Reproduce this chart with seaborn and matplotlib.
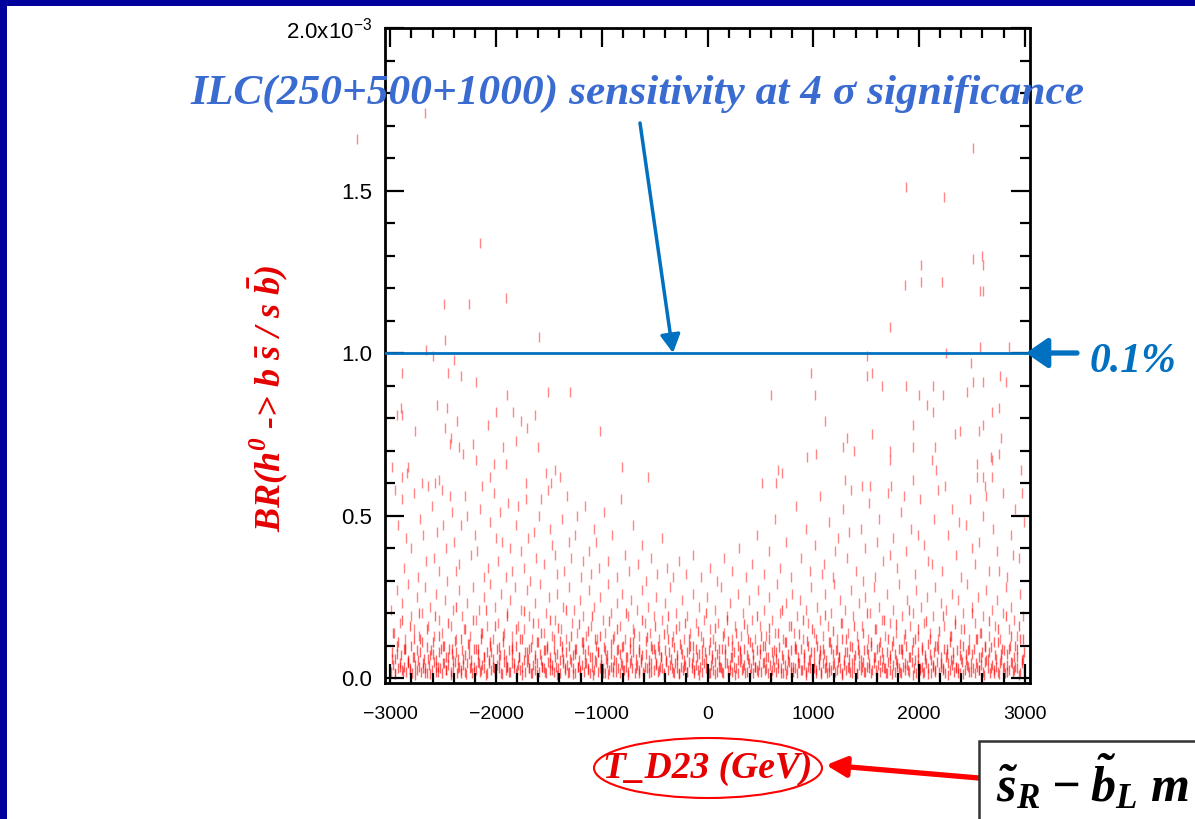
import matplotlib
matplotlib.use("Agg")
import matplotlib.pyplot as plt
import pandas as pd
import seaborn as sns
from matplotlib.patches import Rectangle, Ellipse
from matplotlib.ticker import FixedLocator, MultipleLocator

# ---------------- data (x: T_D23 in GeV, y: BR in units of 1e-3) ----------------
upper_points = [
    (-3316, 1.66), (-2673, 1.74), (-2152, 1.34), (-1909, 1.17), (-2493, 1.15), (-2256, 1.15),
    (-2483, 1.04), (-1597, 1.05), (-2663, 1.01), (-2600, 0.99), (-2398, 0.98), (-2890, 0.94),
    (-2455, 0.94), (-2332, 0.93), (-2190, 0.91), (-1900, 0.87), (-1512, 0.88), (-1300, 0.88),
    (-2560, 0.84), (-2465, 0.83), (-2903, 0.83), (-2938, 0.81), (-2890, 0.81), (-2000, 0.82),
    (-1840, 0.82), (-1632, 0.81), (-1765, 0.79), (-2370, 0.79), (-2078, 0.78), (-2480, 0.77),
    (-1708, 0.77), (-2767, 0.76), (-1017, 0.76), (-2427, 0.74), (-1812, 0.73), (-2436, 0.72),
    (-2220, 0.72), (-2350, 0.71), (-2313, 0.69), (-1935, 0.71), (-1604, 0.71), (-2190, 0.67),
    (-2020, 0.66), (-1905, 0.66), (-2985, 0.65), (-2833, 0.65), (-809, 0.65), (-1527, 0.63),
    (-1443, 0.64), (-1395, 0.62), (-2890, 0.62), (-2843, 0.63), (-2057, 0.62), (-564, 0.62),
    (-2701, 0.60), (-2578, 0.60), (-2540, 0.61), (-1717, 0.60), (-1480, 0.60),
    (2512, 1.63), (1877, 1.51), (2237, 1.48), (2512, 1.29), (2597, 1.30), (2606, 1.27),
    (2020, 1.27), (2020, 1.22), (1868, 1.21), (2218, 1.22), (2578, 1.19), (2606, 1.19),
    (1727, 1.08), (2578, 1.02), (2852, 1.02), (2258, 1.00), (1509, 0.99), (2494, 0.97),
    (980, 0.94), (1556, 0.94), (1509, 0.93), (1650, 0.90), (1877, 0.90), (2133, 0.90),
    (2512, 0.91), (2606, 0.91), (2767, 0.93), (2824, 0.91), (600, 0.87), (1018, 0.87),
    (2000, 0.87), (2228, 0.87), (2455, 0.88), (2077, 0.84), (2133, 0.82), (2691, 0.82),
    (2757, 0.83), (1112, 0.79), (1946, 0.78), (2606, 0.78), (1320, 0.74), (1556, 0.75),
    (2390, 0.76), (2342, 0.75), (2568, 0.76), (2776, 0.74), (1282, 0.71), (1390, 0.70),
    (1727, 0.70), (1946, 0.71), (2152, 0.71), (941, 0.68), (1027, 0.69), (1727, 0.67),
    (2124, 0.67), (2550, 0.66), (2682, 0.68), (2691, 0.67), (2757, 0.69), (669, 0.64),
    (707, 0.63), (2162, 0.64), (2965, 0.64), (520, 0.60), (650, 0.60), (1300, 0.61),
    (1946, 0.61), (2550, 0.62), (2606, 0.62), (2626, 0.59), (2691, 0.62), (1736, 0.59),
    (1462, 0.59), (1537, 0.59),
]

mid_points = [
    (-2960, 0.58), (-2890, 0.55), (-2850, 0.43), (-2780, 0.57), (-2720, 0.49), (-2660, 0.36),
    (-2610, 0.53), (-2560, 0.45), (-2510, 0.58), (-2470, 0.40), (-2420, 0.51), (-2380, 0.33),
    (-2330, 0.47), (-2290, 0.56), (-2240, 0.38), (-2200, 0.44), (-2150, 0.52), (-2110, 0.31),
    (-2060, 0.48), (-2020, 0.57), (-1980, 0.36), (-1940, 0.42), (-1890, 0.54), (-1850, 0.33),
    (-1810, 0.47), (-1760, 0.39), (-1720, 0.55), (-1680, 0.30), (-1640, 0.45), (-1590, 0.50),
    (-1550, 0.35), (-1510, 0.58), (-1470, 0.41), (-1420, 0.32), (-1380, 0.49), (-1330, 0.56),
    (-1290, 0.37), (-1250, 0.44), (-1200, 0.31), (-1160, 0.53), (-1120, 0.39), (-1070, 0.46),
    (-1030, 0.34), (-2930, 0.47), (-2870, 0.34), (-2800, 0.40), (-2740, 0.31), (-2690, 0.44),
    (-2640, 0.59), (-2590, 0.37), (-2540, 0.33), (-2500, 0.47), (-2440, 0.56), (-2400, 0.42),
    (-2350, 0.35), (-2270, 0.50), (-2180, 0.39), (-2130, 0.59), (-2080, 0.34), (-2000, 0.43),
    (-1960, 0.51), (-1910, 0.31), (-1870, 0.40), (-1790, 0.53), (-1740, 0.34), (-1700, 0.43),
    (-1620, 0.37), (-1570, 0.55), (-1490, 0.46), (-1440, 0.38), (-1360, 0.33), (-1310, 0.42),
    (-1230, 0.50), (-1180, 0.36), (-1100, 0.32), (-1050, 0.42),
    (-980, 0.51), (-940, 0.36), (-900, 0.44), (-860, 0.31), (-820, 0.55), (-780, 0.38),
    (-740, 0.33), (-700, 0.47), (-660, 0.35), (-620, 0.41), (-580, 0.30), (-530, 0.37),
    (-480, 0.32), (-430, 0.43), (-380, 0.34), (-330, 0.31), (-270, 0.36), (-200, 0.32),
    (-140, 0.38), (-60, 0.31), (20, 0.34), (90, 0.30), (160, 0.37), (230, 0.33),
    (300, 0.40), (360, 0.31), (420, 0.35), (470, 0.44), (530, 0.32), (580, 0.39),
    (640, 0.49), (690, 0.34), (740, 0.42), (790, 0.31), (840, 0.53), (880, 0.37),
    (930, 0.46), (970, 0.33),
    (1020, 0.41), (1060, 0.56), (1100, 0.35), (1150, 0.48), (1190, 0.31), (1230, 0.43),
    (1280, 0.52), (1320, 0.37), (1360, 0.58), (1400, 0.33), (1450, 0.46), (1490, 0.40),
    (1530, 0.54), (1580, 0.31), (1620, 0.49), (1660, 0.36), (1710, 0.57), (1750, 0.43),
    (1790, 0.34), (1830, 0.51), (1880, 0.39), (1920, 0.46), (1960, 0.32), (2010, 0.55),
    (2050, 0.41), (2090, 0.36), (2140, 0.49), (2180, 0.58), (2220, 0.33), (2270, 0.44),
    (2310, 0.52), (2350, 0.38), (2400, 0.31), (2440, 0.47), (2480, 0.55), (2530, 0.35),
    (2570, 0.42), (2610, 0.50), (2660, 0.33), (2700, 0.46), (2740, 0.39), (2790, 0.57),
    (2830, 0.31), (2870, 0.44), (2910, 0.52), (2950, 0.37), (2990, 0.48),
    (1080, 0.32), (1210, 0.39), (1340, 0.45), (1470, 0.30), (1600, 0.42), (1730, 0.38),
    (1860, 0.56), (1990, 0.44), (2120, 0.35), (2250, 0.59), (2380, 0.48), (2500, 0.40),
    (2630, 0.56), (2760, 0.33), (2890, 0.38), (2970, 0.57),
]

low_points = [
    (-2990, 0.21), (-2965, 0.14), (-2940, 0.27), (-2910, 0.17), (-2885, 0.23), (-2860, 0.12),
    (-2830, 0.29), (-2805, 0.19), (-2780, 0.15), (-2750, 0.25), (-2725, 0.13), (-2700, 0.20),
    (-2670, 0.28), (-2645, 0.16), (-2620, 0.22), (-2590, 0.13), (-2565, 0.26), (-2540, 0.18),
    (-2510, 0.14), (-2485, 0.24), (-2460, 0.30), (-2430, 0.16), (-2405, 0.21), (-2380, 0.12),
    (-2350, 0.27), (-2325, 0.19), (-2300, 0.15), (-2270, 0.23), (-2245, 0.13), (-2220, 0.28),
    (-2190, 0.18), (-2165, 0.21), (-2140, 0.14), (-2110, 0.25), (-2085, 0.16), (-2060, 0.29),
    (-2030, 0.12), (-2005, 0.22), (-1980, 0.17), (-1950, 0.26), (-1925, 0.14), (-1900, 0.20),
    (-1870, 0.24), (-1845, 0.13), (-1820, 0.28), (-1790, 0.16), (-1765, 0.21), (-1740, 0.15),
    (-1710, 0.27), (-1685, 0.19), (-1660, 0.12), (-1630, 0.23), (-1605, 0.17), (-1580, 0.29),
    (-1550, 0.14), (-1525, 0.20), (-1500, 0.25), (-1470, 0.13), (-1445, 0.18), (-1420, 0.26),
    (-1390, 0.15), (-1365, 0.22), (-1340, 0.12), (-1310, 0.28), (-1285, 0.17), (-1260, 0.21),
    (-1230, 0.14), (-1205, 0.24), (-1180, 0.19), (-1150, 0.13), (-1125, 0.27), (-1100, 0.16),
    (-1070, 0.22), (-1045, 0.12), (-1020, 0.25), (-990, 0.18), (-965, 0.14), (-940, 0.29),
    (-910, 0.20), (-885, 0.13), (-860, 0.23), (-830, 0.16), (-805, 0.26), (-780, 0.12),
    (-750, 0.19), (-725, 0.24), (-700, 0.15), (-670, 0.21), (-645, 0.13), (-620, 0.27),
    (-590, 0.17), (-565, 0.22), (-540, 0.14), (-510, 0.19), (-485, 0.25), (-460, 0.12),
    (-430, 0.18), (-405, 0.23), (-380, 0.15), (-350, 0.28), (-325, 0.13), (-300, 0.20),
    (-270, 0.16), (-245, 0.24), (-220, 0.12), (-190, 0.19), (-165, 0.14), (-140, 0.26),
    (-110, 0.17), (-85, 0.22), (-60, 0.13), (-30, 0.18), (-5, 0.25), (20, 0.15),
    (50, 0.12), (75, 0.21), (100, 0.17), (130, 0.28), (155, 0.14), (180, 0.19),
    (210, 0.23), (235, 0.12), (260, 0.16), (290, 0.26), (315, 0.13), (340, 0.20),
    (370, 0.15), (395, 0.24), (420, 0.18), (450, 0.12), (475, 0.27), (500, 0.16),
    (530, 0.21), (555, 0.13), (580, 0.25), (610, 0.18), (635, 0.14), (660, 0.29),
    (690, 0.20), (715, 0.12), (740, 0.23), (770, 0.16), (795, 0.26), (820, 0.14),
    (850, 0.19), (875, 0.24), (900, 0.12), (930, 0.21), (955, 0.17), (980, 0.28),
    (1010, 0.14), (1035, 0.22), (1060, 0.18), (1090, 0.13), (1115, 0.26), (1140, 0.16),
    (1170, 0.20), (1195, 0.29), (1220, 0.12), (1250, 0.24), (1275, 0.17), (1300, 0.21),
    (1330, 0.14), (1355, 0.27), (1380, 0.19), (1410, 0.13), (1435, 0.23), (1460, 0.16),
    (1490, 0.25), (1515, 0.12), (1540, 0.20), (1570, 0.28), (1595, 0.15), (1620, 0.22),
    (1650, 0.18), (1675, 0.13), (1700, 0.26), (1730, 0.17), (1755, 0.21), (1780, 0.14),
    (1810, 0.29), (1835, 0.19), (1860, 0.12), (1890, 0.24), (1915, 0.16), (1940, 0.20),
    (1970, 0.27), (1995, 0.13), (2020, 0.22), (2050, 0.17), (2075, 0.25), (2100, 0.14),
    (2130, 0.19), (2155, 0.28), (2180, 0.12), (2210, 0.23), (2235, 0.16), (2260, 0.21),
    (2290, 0.13), (2315, 0.26), (2340, 0.18), (2370, 0.24), (2395, 0.15), (2420, 0.20),
    (2450, 0.29), (2475, 0.12), (2500, 0.22), (2530, 0.17), (2555, 0.25), (2580, 0.14),
    (2610, 0.19), (2635, 0.27), (2660, 0.13), (2690, 0.21), (2715, 0.16), (2740, 0.24),
    (2770, 0.12), (2795, 0.20), (2820, 0.28), (2850, 0.15), (2875, 0.22), (2900, 0.18),
    (2930, 0.13), (2955, 0.26), (2985, 0.19),
]

low_points_b = [
    (-2975, .14), (-2937, .10), (-2893, .18), (-2858, .09), (-2815, .16), (-2777, .12), (-2733, .20), (-2698, .11), (-2655, .15), (-2617, .085),
    (-2574, .19), (-2536, .13), (-2495, .10), (-2452, .17), (-2416, .09), (-2374, .22), (-2333, .12), (-2296, .15), (-2253, .105), (-2214, .18),
    (-2172, .09), (-2135, .14), (-2093, .21), (-2054, .11), (-2013, .16), (-1975, .095), (-1932, .13), (-1894, .19), (-1853, .10), (-1815, .15),
    (-1773, .12), (-1734, .205), (-1692, .09), (-1655, .17), (-1613, .11), (-1574, .14), (-1533, .085), (-1494, .18), (-1452, .12), (-1415, .155),
    (-1373, .10), (-1334, .21), (-1292, .13), (-1255, .09), (-1213, .165), (-1174, .11), (-1133, .145), (-1095, .19), (-1052, .10), (-1014, .13),
    (-973, .085), (-935, .175), (-892, .12), (-855, .15), (-813, .095), (-774, .20), (-733, .11), (-695, .14), (-652, .09), (-615, .18),
    (-573, .125), (-534, .10), (-493, .16), (-455, .085), (-412, .135), (-374, .19), (-333, .11), (-295, .15), (-252, .09), (-214, .17),
    (-173, .12), (-134, .10), (-93, .145), (-55, .085), (-12, .20), (26, .11), (67, .155), (105, .09), (147, .13), (186, .18),
    (227, .10), (265, .14), (307, .085), (346, .165), (387, .12), (425, .095), (467, .19), (506, .13), (547, .10), (585, .155),
    (627, .085), (666, .14), (707, .21), (745, .11), (787, .16), (826, .09), (867, .135), (905, .18), (947, .10), (986, .15),
    (1027, .12), (1065, .085), (1107, .195), (1146, .11), (1187, .145), (1225, .09), (1267, .17), (1306, .12), (1347, .10), (1385, .16),
    (1427, .085), (1466, .14), (1507, .20), (1545, .11), (1587, .15), (1626, .095), (1667, .18), (1705, .12), (1747, .10), (1786, .165),
    (1827, .09), (1865, .135), (1907, .21), (1946, .11), (1987, .15), (2025, .085), (2067, .175), (2106, .12), (2147, .10), (2185, .145),
    (2227, .19), (2266, .09), (2307, .13), (2345, .165), (2387, .105), (2426, .15), (2467, .085), (2505, .20), (2547, .12), (2586, .14),
    (2627, .095), (2665, .175), (2707, .11), (2746, .15), (2787, .09), (2825, .19), (2867, .13), (2906, .10), (2947, .16), (2985, .12),
]

base_points_a = [
    (-2990, .02), (-2972, .04), (-2951, .015), (-2930, .03), (-2912, .045), (-2890, .025), (-2871, .035), (-2849, .02), (-2830, .05), (-2811, .03),
    (-2790, .015), (-2770, .04), (-2752, .025), (-2729, .035), (-2710, .02), (-2691, .045), (-2669, .03), (-2650, .015), (-2631, .04), (-2609, .025),
    (-2590, .05), (-2571, .02), (-2549, .035), (-2530, .03), (-2512, .015), (-2489, .045), (-2470, .025), (-2451, .04), (-2430, .02), (-2409, .03),
    (-2390, .05), (-2372, .015), (-2350, .035), (-2331, .025), (-2309, .04), (-2290, .02), (-2271, .045), (-2250, .03), (-2230, .015), (-2211, .035),
    (-2190, .025), (-2169, .05), (-2150, .02), (-2131, .04), (-2110, .03), (-2089, .015), (-2070, .045), (-2052, .025), (-2030, .035), (-2011, .02),
    (-1990, .04), (-1970, .03), (-1951, .015), (-1929, .05), (-1910, .025), (-1892, .035), (-1870, .02), (-1849, .045), (-1830, .03), (-1811, .015),
    (-1790, .04), (-1771, .025), (-1750, .035), (-1729, .02), (-1710, .05), (-1691, .03), (-1670, .015), (-1649, .04), (-1631, .025), (-1610, .045),
    (-1590, .02), (-1569, .035), (-1550, .03), (-1530, .015), (-1511, .05), (-1490, .025), (-1470, .04), (-1451, .02), (-1429, .035), (-1410, .03),
    (-1391, .015), (-1370, .045), (-1350, .025), (-1331, .04), (-1310, .02), (-1290, .05), (-1271, .03), (-1250, .015), (-1229, .035), (-1210, .025),
    (-1190, .04), (-1171, .02), (-1150, .045), (-1130, .03), (-1111, .015), (-1090, .035), (-1069, .025), (-1050, .05), (-1031, .02), (-1010, .04),
    (-990, .03), (-971, .015), (-950, .045), (-929, .025), (-910, .035), (-891, .02), (-870, .05), (-850, .03), (-831, .015), (-810, .04),
    (-790, .025), (-771, .035), (-750, .02), (-729, .045), (-710, .03), (-690, .015), (-671, .04), (-650, .025), (-630, .05), (-611, .02),
    (-590, .035), (-570, .03), (-551, .015), (-530, .045), (-509, .025), (-490, .04), (-471, .02), (-450, .035), (-430, .03), (-410, .015),
    (-391, .05), (-370, .025), (-350, .04), (-331, .02), (-310, .045), (-290, .03), (-271, .015), (-250, .035), (-229, .025), (-210, .04),
    (-190, .02), (-171, .05), (-150, .03), (-130, .015), (-111, .04), (-90, .025), (-70, .035), (-51, .02), (-30, .045), (-10, .03),
    (10, .015), (30, .04), (49, .025), (70, .05), (90, .02), (111, .035), (130, .03), (150, .015), (169, .045), (190, .025),
    (210, .04), (229, .02), (250, .035), (270, .03), (291, .015), (310, .05), (330, .025), (349, .04), (370, .02), (390, .045),
    (410, .03), (431, .015), (450, .035), (470, .025), (489, .04), (510, .02), (530, .05), (551, .03), (570, .015), (590, .04),
    (610, .025), (629, .035), (650, .02), (670, .045), (691, .03), (710, .015), (730, .04), (749, .025), (770, .05), (790, .02),
    (810, .035), (831, .03), (850, .015), (870, .045), (889, .025), (910, .04), (930, .02), (951, .035), (970, .03), (990, .015),
    (1010, .05), (1029, .025), (1050, .04), (1070, .02), (1091, .045), (1110, .03), (1130, .015), (1149, .035), (1170, .025), (1190, .04),
    (1210, .02), (1231, .05), (1250, .03), (1270, .015), (1289, .04), (1310, .025), (1330, .035), (1351, .02), (1370, .045), (1390, .03),
    (1410, .015), (1429, .04), (1450, .025), (1470, .05), (1491, .02), (1510, .035), (1530, .03), (1549, .015), (1570, .045), (1590, .025),
    (1610, .04), (1631, .02), (1650, .035), (1670, .03), (1689, .015), (1710, .05), (1730, .025), (1751, .04), (1770, .02), (1790, .045),
    (1810, .03), (1829, .015), (1850, .035), (1870, .025), (1891, .04), (1910, .02), (1930, .05), (1949, .03), (1970, .015), (1990, .04),
    (2010, .025), (2031, .035), (2050, .02), (2070, .045), (2089, .03), (2110, .015), (2130, .04), (2151, .025), (2170, .05), (2190, .02),
    (2210, .035), (2229, .03), (2250, .015), (2270, .045), (2291, .025), (2310, .04), (2330, .02), (2349, .035), (2370, .03), (2390, .015),
    (2410, .05), (2431, .025), (2450, .04), (2470, .02), (2489, .045), (2510, .03), (2530, .015), (2551, .035), (2570, .025), (2590, .04),
    (2610, .02), (2629, .05), (2650, .03), (2670, .015), (2691, .04), (2710, .025), (2730, .035), (2749, .02), (2770, .045), (2790, .03),
    (2810, .015), (2831, .04), (2850, .025), (2870, .05), (2889, .02), (2910, .035), (2930, .03), (2951, .015), (2970, .045), (2990, .025),
]

base_points_b = [
    (-2985, .08), (-2955, .06), (-2926, .11), (-2895, .07), (-2866, .09), (-2836, .055), (-2805, .10), (-2776, .065), (-2745, .085), (-2716, .12),
    (-2685, .06), (-2656, .095), (-2626, .07), (-2595, .11), (-2566, .055), (-2535, .08), (-2506, .10), (-2476, .065), (-2445, .09), (-2416, .075),
    (-2386, .115), (-2355, .06), (-2326, .085), (-2296, .07), (-2265, .105), (-2236, .055), (-2206, .09), (-2175, .075), (-2146, .12), (-2116, .065),
    (-2085, .08), (-2056, .10), (-2026, .06), (-1995, .09), (-1966, .07), (-1936, .11), (-1905, .055), (-1876, .085), (-1846, .075), (-1815, .10),
    (-1786, .065), (-1756, .12), (-1725, .08), (-1696, .06), (-1666, .095), (-1635, .07), (-1606, .11), (-1576, .055), (-1545, .085), (-1516, .10),
    (-1486, .065), (-1455, .09), (-1426, .075), (-1396, .115), (-1365, .06), (-1336, .08), (-1306, .10), (-1275, .07), (-1246, .09), (-1216, .055),
    (-1185, .11), (-1156, .075), (-1126, .085), (-1095, .065), (-1066, .12), (-1036, .08), (-1005, .06), (-976, .095), (-946, .07), (-915, .105),
    (-886, .055), (-856, .085), (-825, .075), (-796, .10), (-766, .065), (-735, .09), (-706, .11), (-676, .06), (-645, .08), (-616, .07),
    (-586, .115), (-555, .055), (-526, .09), (-496, .075), (-465, .10), (-436, .065), (-406, .085), (-375, .12), (-346, .06), (-316, .095),
    (-285, .07), (-256, .105), (-226, .055), (-195, .08), (-166, .10), (-136, .065), (-105, .09), (-76, .075), (-46, .11), (-15, .06),
    (15, .085), (44, .07), (74, .10), (105, .055), (134, .09), (164, .075), (195, .115), (224, .065), (254, .08), (285, .10),
    (314, .06), (344, .09), (375, .07), (404, .11), (434, .055), (465, .085), (494, .075), (524, .10), (555, .065), (584, .12),
    (614, .08), (645, .06), (674, .095), (704, .07), (735, .11), (764, .055), (794, .085), (825, .10), (854, .065), (884, .09),
    (915, .075), (944, .115), (974, .06), (1005, .08), (1034, .10), (1064, .07), (1095, .09), (1124, .055), (1154, .11), (1185, .075),
    (1214, .085), (1244, .065), (1275, .12), (1304, .08), (1334, .06), (1365, .095), (1394, .07), (1424, .105), (1455, .055), (1484, .085),
    (1514, .075), (1545, .10), (1574, .065), (1604, .09), (1635, .11), (1664, .06), (1694, .08), (1725, .07), (1754, .115), (1784, .055),
    (1815, .09), (1844, .075), (1874, .10), (1905, .065), (1934, .085), (1964, .12), (1995, .06), (2024, .095), (2054, .07), (2085, .105),
    (2114, .055), (2144, .08), (2175, .10), (2204, .065), (2234, .09), (2265, .075), (2294, .11), (2324, .06), (2355, .085), (2384, .07),
    (2414, .10), (2445, .055), (2474, .09), (2504, .075), (2535, .12), (2564, .065), (2594, .08), (2625, .10), (2654, .06), (2684, .095),
    (2715, .07), (2744, .11), (2774, .055), (2805, .085), (2834, .075), (2864, .10), (2895, .065), (2924, .09), (2955, .12), (2984, .06),
]

base_points_c = [
    (-2980, .06), (-2956, .012), (-2932, .075), (-2908, .035), (-2884, .02), (-2860, .09), (-2836, .045), (-2812, .025), (-2788, .065), (-2764, .01),
    (-2740, .055), (-2716, .08), (-2692, .03), (-2668, .015), (-2644, .06), (-2620, .012), (-2596, .075), (-2572, .035), (-2548, .02), (-2524, .09),
    (-2500, .045), (-2476, .025), (-2452, .065), (-2428, .01), (-2404, .055), (-2380, .08), (-2356, .03), (-2332, .015), (-2308, .06), (-2284, .012),
    (-2260, .075), (-2236, .035), (-2212, .02), (-2188, .09), (-2164, .045), (-2140, .025), (-2116, .065), (-2092, .01), (-2068, .055), (-2044, .08),
    (-2020, .03), (-1996, .015), (-1972, .06), (-1948, .012), (-1924, .075), (-1900, .035), (-1876, .02), (-1852, .09), (-1828, .045), (-1804, .025),
    (-1780, .065), (-1756, .01), (-1732, .055), (-1708, .08), (-1684, .03), (-1660, .015), (-1636, .06), (-1612, .012), (-1588, .075), (-1564, .035),
    (-1540, .02), (-1516, .09), (-1492, .045), (-1468, .025), (-1444, .065), (-1420, .01), (-1396, .055), (-1372, .08), (-1348, .03), (-1324, .015),
    (-1300, .06), (-1276, .012), (-1252, .075), (-1228, .035), (-1204, .02), (-1180, .09), (-1156, .045), (-1132, .025), (-1108, .065), (-1084, .01),
    (-1060, .055), (-1036, .08), (-1012, .03), (-988, .015), (-964, .06), (-940, .012), (-916, .075), (-892, .035), (-868, .02), (-844, .09),
    (-820, .045), (-796, .025), (-772, .065), (-748, .01), (-724, .055), (-700, .08), (-676, .03), (-652, .015), (-628, .06), (-604, .012),
    (-580, .075), (-556, .035), (-532, .02), (-508, .09), (-484, .045), (-460, .025), (-436, .065), (-412, .01), (-388, .055), (-364, .08),
    (-340, .03), (-316, .015), (-292, .06), (-268, .012), (-244, .075), (-220, .035), (-196, .02), (-172, .09), (-148, .045), (-124, .025),
    (-100, .065), (-76, .01), (-52, .055), (-28, .08), (-4, .03), (20, .015), (44, .06), (68, .012), (92, .075), (116, .035),
    (140, .02), (164, .09), (188, .045), (212, .025), (236, .065), (260, .01), (284, .055), (308, .08), (332, .03), (356, .015),
    (380, .06), (404, .012), (428, .075), (452, .035), (476, .02), (500, .09), (524, .045), (548, .025), (572, .065), (596, .01),
    (620, .055), (644, .08), (668, .03), (692, .015), (716, .06), (740, .012), (764, .075), (788, .035), (812, .02), (836, .09),
    (860, .045), (884, .025), (908, .065), (932, .01), (956, .055), (980, .08), (1004, .03), (1028, .015), (1052, .06), (1076, .012),
    (1100, .075), (1124, .035), (1148, .02), (1172, .09), (1196, .045), (1220, .025), (1244, .065), (1268, .01), (1292, .055), (1316, .08),
    (1340, .03), (1364, .015), (1388, .06), (1412, .012), (1436, .075), (1460, .035), (1484, .02), (1508, .09), (1532, .045), (1556, .025),
    (1580, .065), (1604, .01), (1628, .055), (1652, .08), (1676, .03), (1700, .015), (1724, .06), (1748, .012), (1772, .075), (1796, .035),
    (1820, .02), (1844, .09), (1868, .045), (1892, .025), (1916, .065), (1940, .01), (1964, .055), (1988, .08), (2012, .03), (2036, .015),
    (2060, .06), (2084, .012), (2108, .075), (2132, .035), (2156, .02), (2180, .09), (2204, .045), (2228, .025), (2252, .065), (2276, .01),
    (2300, .055), (2324, .08), (2348, .03), (2372, .015), (2396, .06), (2420, .012), (2444, .075), (2468, .035), (2492, .02), (2516, .09),
    (2540, .045), (2564, .025), (2588, .065), (2612, .01), (2636, .055), (2660, .08), (2684, .03), (2708, .015), (2732, .06), (2756, .012),
    (2780, .075), (2804, .035), (2828, .02), (2852, .09), (2876, .045), (2900, .025), (2924, .065), (2948, .01), (2972, .055), (2996, .08),
]

x_ticks = [-3000, -2000, -1000, 0, 1000, 2000, 3000]
x_tick_labels = ["\u22123000", "\u22122000", "\u22121000", "0", "1000", "2000", "3000"]
y_ticks = [0.0, 0.5, 1.0, 1.5, 2.0]
y_tick_labels = ["0.0", "0.5", "1.0", "1.5", r"$\mathregular{2.0x10^{-3}}$"]
sensitivity_level = 1.0   # 0.1 %, in units of 1e-3

title_text = "ILC(250+500+1000) sensitivity at 4 \u03c3 significance"
xlabel_text = "T_D23 (GeV)"
ylabel_text = r"BR(h$^{\mathregular{0}}$ -> b $\mathregular{\bar{s}}$ / s $\mathregular{\bar{b}}$)"
level_text = "0.1%"
box_text = r"$\mathregular{\tilde{s}_{R}-\tilde{b}_{L}}$ m"

# ---------------- figure ----------------
plt.rcParams["font.family"] = ["Liberation Sans", "DejaVu Sans"]
W, H = 1195, 819
fig = plt.figure(figsize=(W / 100, H / 100), dpi=100)
fig.patch.set_facecolor("white")
ax = fig.add_axes([385 / W, 136 / H, 645 / W, 655 / H])

sparse_df = pd.DataFrame(upper_points + mid_points + low_points, columns=["x", "y"])
dense_df = pd.DataFrame(low_points_b + base_points_a + base_points_b + base_points_c,
                        columns=["x", "y"])
sns.scatterplot(data=sparse_df, x="x", y="y", marker="|", s=45, color="#ff1010",
                alpha=0.5, linewidth=1.0, ax=ax, clip_on=False, legend=False)
sns.scatterplot(data=dense_df, x="x", y="y", marker="|", s=45, color="#ff0a0a",
                alpha=0.62, linewidth=1.0, ax=ax, clip_on=False, legend=False)

ax.axhline(sensitivity_level, color="#0070C0", lw=2, zorder=3)

ax.set_xlim(-3050, 3050)
ax.set_ylim(-0.015, 2.0)
ax.xaxis.set_major_locator(FixedLocator(x_ticks))
ax.set_xticklabels(x_tick_labels)
ax.xaxis.set_minor_locator(MultipleLocator(200))
ax.yaxis.set_major_locator(FixedLocator(y_ticks))
ax.set_yticklabels(y_tick_labels)
ax.yaxis.set_minor_locator(MultipleLocator(0.1))
ax.tick_params(which="both", direction="in", top=True, right=True, width=1.6, color="black",
               labelcolor="black")
ax.tick_params(which="major", length=14)
ax.tick_params(axis="x", which="major", pad=16.5, labelsize=14)
ax.tick_params(axis="y", which="major", pad=9, labelsize=16)
ax.tick_params(which="minor", length=7.5)
for sp in ax.spines.values():
    sp.set_color("black")
    sp.set_linewidth(2.0)
ax.set_xlabel("")
ax.set_ylabel("")
ax.set_facecolor("white")

serif_bi = dict(family="Liberation Serif", weight="bold", style="italic")

# title
fig.text(190 / W, 1 - 94 / H, title_text, color="#3A6BD0", fontsize=31.2,
         ha="left", va="center", **serif_bi)
ax.annotate("", xy=(673, H - 353), xycoords="figure pixels",
            xytext=(640, H - 123), textcoords="figure pixels",
            arrowprops=dict(arrowstyle="-|>,head_length=0.55,head_width=0.3",
                            color="#0070C0", lw=2.5, mutation_scale=20,
                            shrinkA=0, shrinkB=0),
            annotation_clip=False)

# 0.1% label and arrow
fig.text(1090 / W, 1 - 362 / H, level_text, color="#0070C0", fontsize=30,
         ha="left", va="center", **serif_bi)
ax.annotate("", xy=(1026, H - 353), xycoords="figure pixels",
            xytext=(1077, H - 353), textcoords="figure pixels",
            arrowprops=dict(arrowstyle="-|>,head_length=0.65,head_width=0.45",
                            color="#0070C0", lw=3.8, mutation_scale=20,
                            shrinkA=0, shrinkB=0),
            annotation_clip=False)

# y label
fig.text(268 / W, 1 - 398 / H, ylabel_text, rotation=90, color="#E60000", fontsize=26,
         ha="center", va="center", **serif_bi)

# x label in ellipse
fig.text(708 / W, 1 - 768 / H, xlabel_text, color="#E60000", fontsize=27,
         ha="center", va="center", **serif_bi)
fig.add_artist(Ellipse((708 / W, 1 - 768 / H), 228 / W, 60 / H, transform=fig.transFigure,
                       fill=False, edgecolor="#FF0000", lw=1.5))

# box at bottom right
fig.add_artist(Rectangle((979 / W, -0.05), 0.3, (H - 741) / H + 0.05, transform=fig.transFigure,
                         facecolor="white", edgecolor="#333333", lw=1.8, clip_on=False, zorder=4))
fig.text(996 / W, (H - 802) / H, box_text, color="black", fontsize=36,
         ha="left", va="baseline", zorder=5, **serif_bi)
ax.annotate("", xy=(826, H - 765), xycoords="figure pixels",
            xytext=(979, H - 778), textcoords="figure pixels",
            arrowprops=dict(arrowstyle="-|>,head_length=0.6,head_width=0.3",
                            color="#FF0000", lw=3.8, mutation_scale=20,
                            shrinkA=0, shrinkB=0),
            annotation_clip=False)

# slide border
fig.add_artist(Rectangle((0, 1 - 6 / H), 1, 6 / H, transform=fig.transFigure,
                         facecolor="#00009C", edgecolor="none", zorder=10))
fig.add_artist(Rectangle((0, 0), 7 / W, 1, transform=fig.transFigure,
                         facecolor="#00009C", edgecolor="none", zorder=10))

fig.savefig("out.png", dpi=100, facecolor="white")
